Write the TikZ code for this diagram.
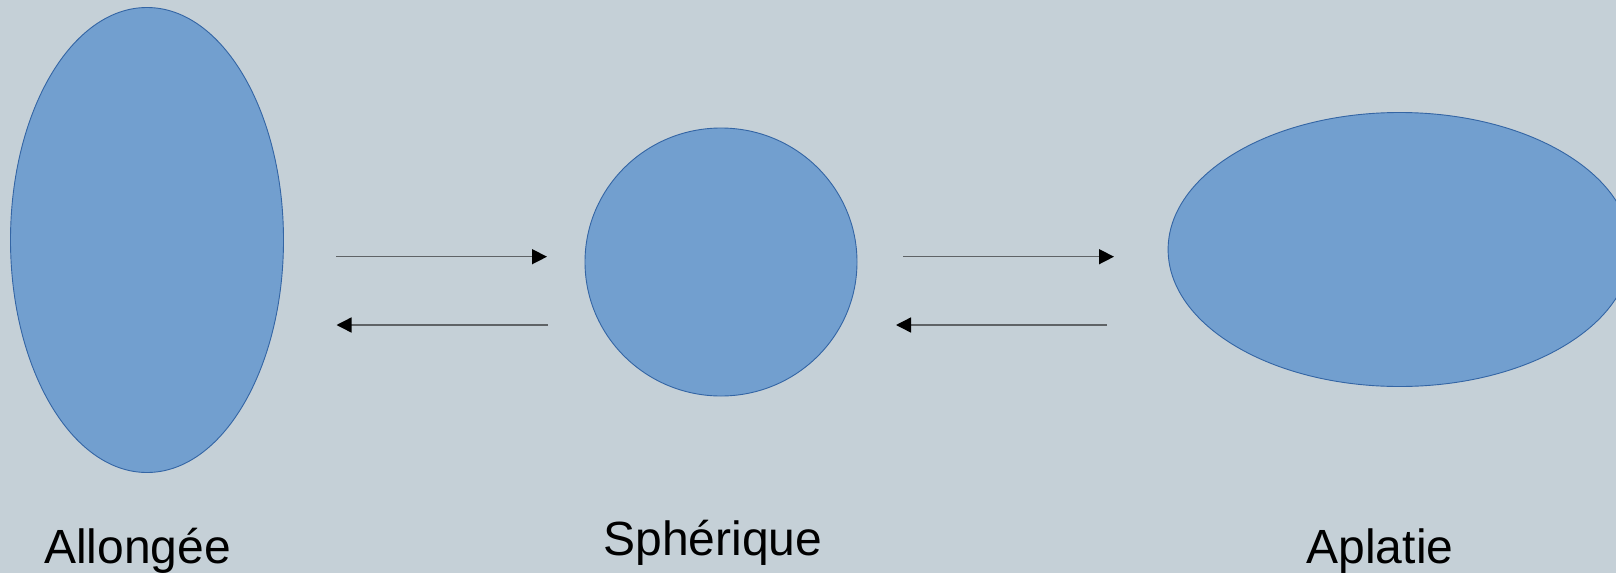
\documentclass[tikz,border=0pt]{standalone}
\usepackage{fontspec}
\setmainfont{Liberation Sans}
\usetikzlibrary{shapes.geometric,arrows.meta}
\definecolor{bg}{HTML}{C5D0D7}
\definecolor{fillblue}{HTML}{729FCF}
\definecolor{edgeblue}{HTML}{3465A4}
\definecolor{linegray}{HTML}{5F6366}
\tikzset{
  blob/.style={ellipse, draw=edgeblue, fill=fillblue, line width=0.9pt, inner sep=0pt},
  conv/.style={draw=linegray, line width=1.4pt, -{Triangle[length=15pt,width=15pt,color=black]}},
  lab/.style={anchor=base, font=\fontsize{48}{50}\selectfont, text=black, inner sep=0pt}
}
\begin{document}
\begin{tikzpicture}[x=1pt,y=-1pt]
\useasboundingbox (0,0) rectangle (1616,573);
\fill[bg] (0,0) rectangle (1616,573);
\clip (0,0) rectangle (1616,573);
\node[blob, minimum width=273pt, minimum height=465pt] (allong) at (147,240) {};
\node[blob, minimum width=272pt, minimum height=268pt] (sphere) at (721,262) {};
\node[blob, minimum width=463pt, minimum height=274pt] (aplat) at (1399.6,249.5) {};
\coordinate (a1) at (336,256.7);
\coordinate (a2) at (547,256.7);
\coordinate (a3) at (548,325);
\coordinate (a4) at (336.5,325);
\coordinate (b1) at (903,256.7);
\coordinate (b2) at (1114,256.7);
\coordinate (b3) at (1107,325);
\coordinate (b4) at (896,325);
\draw[conv] (a1) -- (a2);
\draw[conv] (a3) -- (a4);
\draw[conv] (b1) -- (b2);
\draw[conv] (b3) -- (b4);
\node[lab] (tA) at (137.5,563) {Allongée};
\node[lab] (tS) at (713,555) {Sphérique};
\node[lab] (tP) at (1380,563) {Aplatie};
\end{tikzpicture}
\end{document}
